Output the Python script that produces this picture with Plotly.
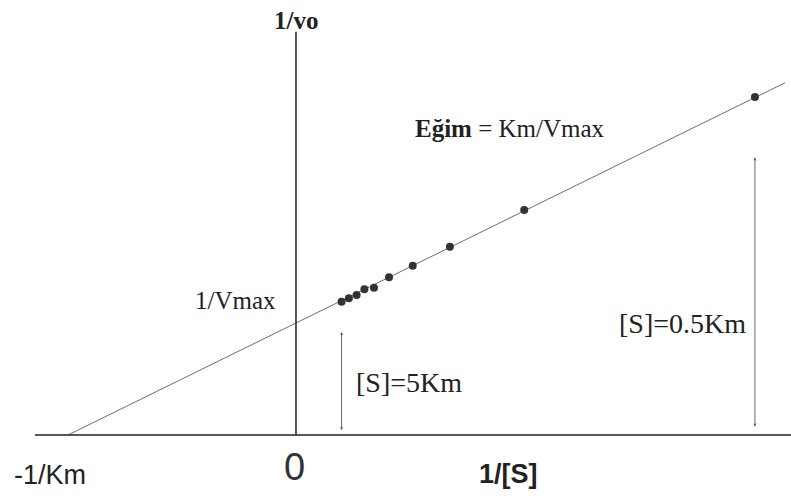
import plotly.graph_objects as go

# Lineweaver-Burk double reciprocal plot (units: 1/[S] in 1/Km, 1/vo in 1/Vmax)
inv_s = [0.200, 0.232, 0.266, 0.300, 0.342, 0.408, 0.512, 0.675, 1.001, 2.013]
inv_v = [1.190, 1.221, 1.250, 1.301, 1.315, 1.408, 1.512, 1.681, 2.009, 3.018]

# fitted line: 1/vo = (Km/Vmax)(1/[S]) + 1/Vmax
slope = 1.0
intercept = 1.0
line_x = [-1.0, 2.145]

# axis extents
x_axis_span = [-1.145, 2.171]
y_axis_span = [0.0, 3.6]

# double-headed markers at [S]=5Km and [S]=0.5Km
marker_x = [0.2, 2.013]
marker_top = [0.92, 2.48]
marker_bottom = [0.03, 0.06]

fig = go.Figure()

line_y = [slope * v + intercept for v in line_x]
fig.add_trace(go.Scatter(x=line_x, y=line_y, mode="lines",
                         line=dict(color="#6e6e6e", width=1), hoverinfo="skip"))
fig.add_trace(go.Scatter(x=inv_s, y=inv_v, mode="markers",
                         marker=dict(color="#333333", size=8), hoverinfo="skip"))

# axis lines
fig.add_shape(type="line", x0=x_axis_span[0], x1=x_axis_span[1], y0=0, y1=0,
              line=dict(color="#222222", width=1.5))
fig.add_shape(type="line", x0=0, x1=0, y0=y_axis_span[0], y1=y_axis_span[1],
              line=dict(color="#222222", width=1.5))

for mx, top, bot in zip(marker_x, marker_top, marker_bottom):
    fig.add_annotation(x=mx, y=top, ax=mx, ay=bot, xref="x", yref="y",
                       axref="x", ayref="y", text="", showarrow=True,
                       arrowhead=2, startarrowhead=2, arrowside="end+start",
                       arrowsize=0.6, startarrowsize=0.6, arrowwidth=1,
                       arrowcolor="#666666")

serif = "Liberation Serif, Times New Roman, serif"
sans = "Liberation Sans, Arial, sans-serif"

labels = [
    dict(x=0.0, y=3.70, text="<b>1/vo</b>", font=dict(family=serif, size=25, color="#222")),
    dict(x=0.939, y=2.74, text="<b>Eğim</b> = Km/Vmax", font=dict(family=serif, size=25, color="#222")),
    dict(x=-0.265, y=1.20, text="1/Vmax", font=dict(family=serif, size=25, color="#222")),
    dict(x=0.496, y=0.47, text="[S]=5Km", font=dict(family=serif, size=28, color="#222")),
    dict(x=1.697, y=1.0, text="[S]=0.5Km", font=dict(family=serif, size=28, color="#222")),
    dict(x=-1.081, y=-0.36, text="-1/Km", font=dict(family=sans, size=27, color="#222")),
    dict(x=-0.005, y=-0.29, text="0", font=dict(family=sans, size=38, color="#333")),
    dict(x=0.934, y=-0.35, text="<b>1/[S]</b>", font=dict(family=sans, size=27, color="#222")),
]
for lab in labels:
    fig.add_annotation(xref="x", yref="y", showarrow=False, **lab)

fig.update_layout(
    width=791, height=496,
    margin=dict(l=0, r=0, t=0, b=0),
    paper_bgcolor="white", plot_bgcolor="white",
    showlegend=False,
    xaxis=dict(range=[-1.2982, 2.1711], visible=False, fixedrange=True),
    yaxis=dict(range=[-0.5446, 3.8839], visible=False, fixedrange=True),
)

fig.write_html("out.html")
